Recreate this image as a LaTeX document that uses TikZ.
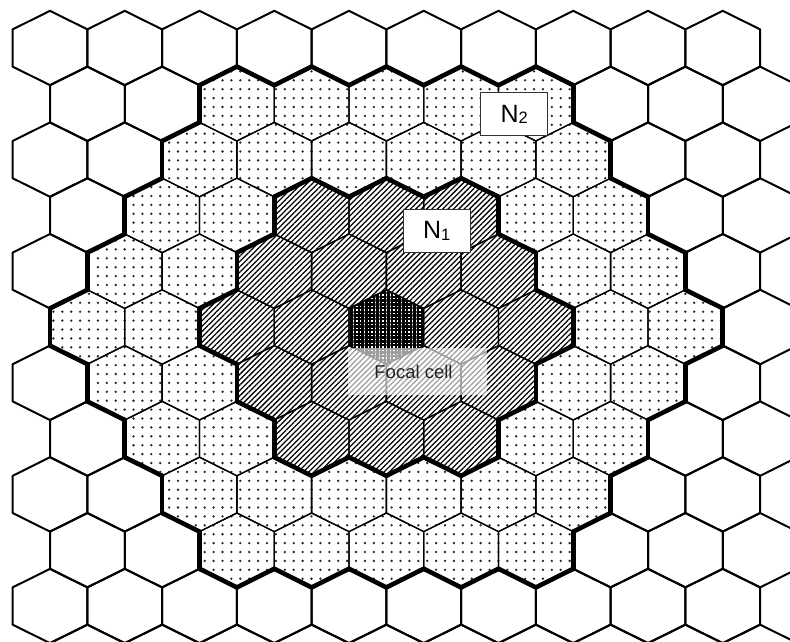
\documentclass[tikz,border=0pt]{standalone}
\usepackage{fontspec}
\setmainfont{Liberation Sans}
\usetikzlibrary{patterns.meta}
\newcommand\hexat[2]{(#1,#2) ++(0,-37.2) -- ++(37.375,18.6) -- ++(0,37.2) -- ++(-37.375,18.6) -- ++(-37.375,-18.6) -- ++(0,-37.2) -- cycle}
\begin{document}
\begin{tikzpicture}[x=1pt,y=-1pt,
  declare function={hd(\qa,\ra)=(abs(\qa-2)+abs(\ra-5)+abs(\qa+\ra-7))/2;},
  gridline/.style={line width=2pt,line join=round},
  innerline/.style={line width=1.3pt,line join=round},
  border/.style={line width=4.6pt,line cap=round},
  dotfill/.style={pattern={Dots[distance=8.9pt,radius=1.3pt]},pattern color=black!85},
  hatchfill/.style={pattern={Lines[angle=45,distance=3.8pt,line width=1.25pt]},pattern color=black},
  focalfill/.style={pattern={Hatch[angle=0,distance=3.7pt,line width=2.4pt]},pattern color=black},
  labelbox/.style={draw=black!80,line width=0.9pt,fill=white,inner sep=0pt,
    font=\fontsize{25}{25}\selectfont,minimum width=67pt,minimum height=43pt},
  focalbox/.style={fill=white,fill opacity=0.62,text opacity=1,text=black!85,inner sep=0pt,
    font=\fontsize{18.5}{18.5}\selectfont,minimum width=139pt,minimum height=47pt},
]
\useasboundingbox (0,0) rectangle (790,641);
\fill[white] (0,0) rectangle (790,641);
\begin{scope}
\clip (0,0) rectangle (790,641);
% plain grid
\foreach \ro in {0,...,11}{
  \foreach \co in {0,...,9}{
    \pgfmathsetmacro\cx{50+74.75*\co+37.375*mod(\ro,2)}
    \pgfmathsetmacro\cy{48+55.8*\ro}
    \draw[gridline] \hexat{\cx}{\cy};
  }
}
% fills
\foreach \ro in {0,...,11}{
  \foreach \co in {0,...,9}{
    \pgfmathsetmacro\cx{50+74.75*\co+37.375*mod(\ro,2)}
    \pgfmathsetmacro\cy{48+55.8*\ro}
    \pgfmathtruncatemacro\q{\co-floor(\ro/2)}
    \pgfmathtruncatemacro\d{hd(\q,\ro)}
    \ifnum\d<5
      \fill[white] \hexat{\cx}{\cy};
      \ifnum\d=0
        \fill[focalfill] \hexat{\cx}{\cy};
      \else
        \ifnum\d<3
          \fill[hatchfill] \hexat{\cx}{\cy};
        \else
          \fill[dotfill] \hexat{\cx}{\cy};
        \fi
      \fi
    \fi
  }
}
% inner lines
\foreach \ro in {0,...,11}{
  \foreach \co in {0,...,9}{
    \pgfmathsetmacro\cx{50+74.75*\co+37.375*mod(\ro,2)}
    \pgfmathsetmacro\cy{48+55.8*\ro}
    \pgfmathtruncatemacro\q{\co-floor(\ro/2)}
    \pgfmathtruncatemacro\d{hd(\q,\ro)}
    \ifnum\d<5
      \draw[innerline] \hexat{\cx}{\cy};
    \fi
  }
}
% thick region borders
\foreach \ro in {0,...,11}{
  \foreach \co in {0,...,9}{
    \pgfmathsetmacro\cx{50+74.75*\co+37.375*mod(\ro,2)}
    \pgfmathsetmacro\cy{48+55.8*\ro}
    \pgfmathtruncatemacro\q{\co-floor(\ro/2)}
    \pgfmathtruncatemacro\d{hd(\q,\ro)}
    \ifnum\d<5
      \foreach \dq/\dr/\xa/\ya/\xb/\yb in {1/-1/0/-37.2/37.375/-18.6, 1/0/37.375/-18.6/37.375/18.6, 0/1/37.375/18.6/0/37.2, -1/1/0/37.2/-37.375/18.6, -1/0/-37.375/18.6/-37.375/-18.6, 0/-1/-37.375/-18.6/0/-37.2}{
        \pgfmathtruncatemacro\nd{hd(\q+\dq,\ro+\dr)}
        \pgfmathtruncatemacro\bA{(\d<3)&&(\nd>2)}
        \pgfmathtruncatemacro\bB{(\nd>4)}
        \ifnum\bA=1 \draw[border] (\cx+\xa,\cy+\ya) -- (\cx+\xb,\cy+\yb); \fi
        \ifnum\bB=1 \draw[border] (\cx+\xa,\cy+\ya) -- (\cx+\xb,\cy+\yb); \fi
      }
    \fi
  }
}
\end{scope}
% labels
\node[labelbox] (n2) at (514.2,114.2) {N{\fontsize{16.5}{16.5}\selectfont\raisebox{-1.5pt}{2}}};
\node[labelbox] (n1) at (436.7,230.7) {N{\fontsize{16.5}{16.5}\selectfont\raisebox{-1.5pt}{1}}};
\node[focalbox] (focal) at (417.5,371.5) {\hspace*{-8pt}Focal cell};
\end{tikzpicture}
\end{document}
